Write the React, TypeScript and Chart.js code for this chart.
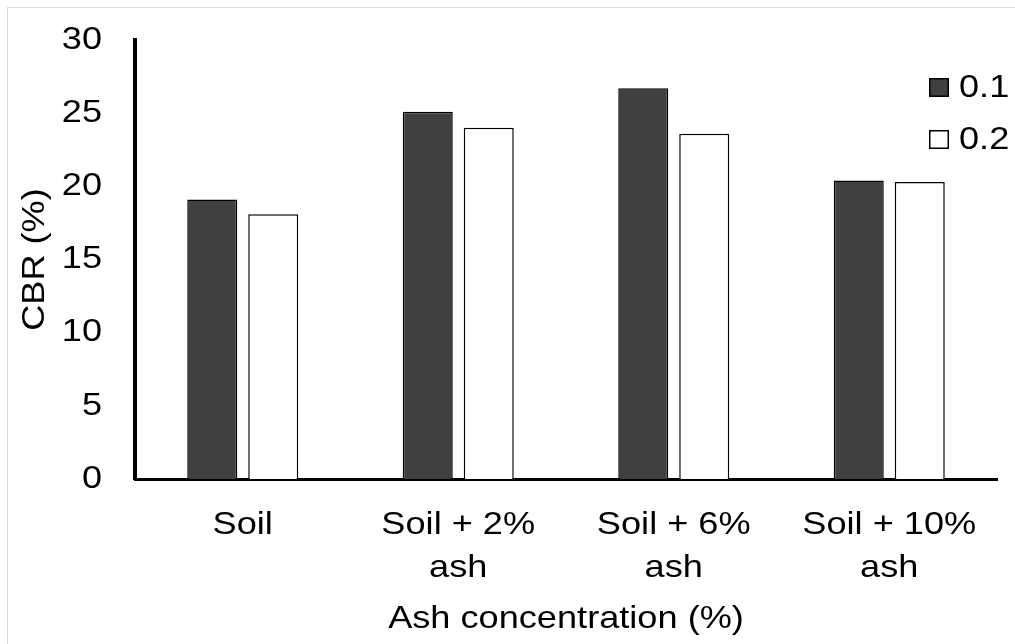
import React, { useEffect, useRef } from "react";
import { Chart, registerables } from "chart.js";

Chart.register(...registerables);

const categories: string[][] = [["Soil"], ["Soil + 2%", "ash"], ["Soil + 6%", "ash"], ["Soil + 10%", "ash"]];
const seriesNames: string[] = ["0.1", "0.2"];
const series01: number[] = [19.1, 25.1, 26.7, 20.4];
const series02: number[] = [18.1, 24.0, 23.6, 20.3];
const yTicks: number[] = [0, 5, 10, 15, 20, 25, 30];

const FONT = "'Liberation Sans', Arial, sans-serif";
const TEXT_STRETCH = 1.13;

// Draw text slightly wider (the reference uses a wide Arial-like face).
const wideTextPlugin = {
  id: "wideText",
  beforeDraw(chart: any) {
    const ctx = chart.ctx;
    if (ctx.__wide) return;
    const orig = ctx.fillText.bind(ctx);
    ctx.fillText = (text: string, x: number, y: number, maxWidth?: number) => {
      ctx.save();
      ctx.translate(x, y);
      ctx.scale(TEXT_STRETCH, 1);
      if (maxWidth !== undefined) orig(text, 0, 0, maxWidth / TEXT_STRETCH);
      else orig(text, 0, 0);
      ctx.restore();
    };
    ctx.__wide = true;
  },
};

const legendPlugin = {
  id: "customLegend",
  afterDraw(chart: any) {
    const ctx = chart.ctx;
    const x0 = chart.width - 86;
    const y0 = 78;
    const rowGap = 52;
    ctx.save();
    chart.data.datasets.forEach((ds: any, i: number) => {
      const y = y0 + i * rowGap;
      ctx.fillStyle = ds.backgroundColor;
      ctx.strokeStyle = "#000";
      ctx.lineWidth = 1.5;
      ctx.fillRect(x0, y, 20, 19);
      ctx.strokeRect(x0 + 0.75, y + 0.75, 18.5, 17.5);
      ctx.fillStyle = "#000";
      ctx.font = `32px ${FONT}`;
      ctx.textAlign = "left";
      ctx.textBaseline = "middle";
      ctx.fillText(ds.label, x0 + 30, y + 10);
    });
    ctx.restore();
  },
};

export default function App() {
  const ref = useRef<HTMLCanvasElement | null>(null);
  useEffect(() => {
    if (!ref.current) return;
    const chart = new Chart(ref.current, {
      type: "bar",
      data: {
        labels: categories,
        datasets: [
          {
            label: seriesNames[0],
            data: series01,
            backgroundColor: "#404040",
            borderColor: "#000",
            borderWidth: 1.5,
            categoryPercentage: 0.566,
            barPercentage: 0.82,
          },
          {
            label: seriesNames[1],
            data: series02,
            backgroundColor: "#ffffff",
            borderColor: "#000",
            borderWidth: 1.5,
            categoryPercentage: 0.566,
            barPercentage: 0.82,
          },
        ],
      },
      options: {
        animation: false,
        responsive: true,
        maintainAspectRatio: false,
        layout: { padding: { left: 0, right: 18, top: 40, bottom: 0 } },
        plugins: {
          legend: { display: false },
          tooltip: { enabled: false },
        },
        scales: {
          x: {
            afterFit: (scale: any) => {
              scale.height = 165;
            },
            grid: { display: false, drawTicks: false },
            border: { display: true, color: "#000", width: 3 },
            ticks: {
              color: "#000",
              font: { family: FONT, size: 32, lineHeight: 1.36 },
              padding: 24,
              maxRotation: 0,
              autoSkip: false,
            },
            title: {
              display: true,
              text: "Ash concentration (%)",
              color: "#000",
              font: { family: FONT, size: 32, lineHeight: 1.2 },
              padding: { top: 0, bottom: 5.8 },
            },
          },
          y: {
            min: 0,
            max: 30,
            afterFit: (scale: any) => {
              scale.width = 135;
              scale.paddingTop = 0;
              scale.paddingBottom = 0;
            },
            afterBuildTicks: (axis: any) => {
              axis.ticks = yTicks.map((v) => ({ value: v }));
            },
            grid: { display: false, drawTicks: false },
            border: { display: true, color: "#000", width: 4 },
            ticks: {
              color: "#000",
              font: { family: FONT, size: 32, lineHeight: 1.2 },
              padding: 33,
            },
            title: {
              display: true,
              text: "CBR (%)",
              color: "#000",
              font: { family: FONT, size: 32, lineHeight: 1.2 },
              padding: { top: 15.8, bottom: 0 },
            },
          },
        },
      },
      plugins: [wideTextPlugin, legendPlugin],
    });
    return () => chart.destroy();
  }, []);

  return (
    <div style={{ position: "absolute", left: 0, top: 0, width: 1015, height: 644, overflow: "hidden", background: "#fff" }}>
      <div
        style={{
          position: "absolute",
          left: 7,
          top: 7,
          width: 1015,
          height: 644,
          border: "1px solid #d9d9d9",
          boxSizing: "border-box",
        }}
      />
      <div style={{ position: "absolute", left: 0, top: 0, width: 1015, height: 644 }}>
        <canvas ref={ref} />
      </div>
    </div>
  );
}
